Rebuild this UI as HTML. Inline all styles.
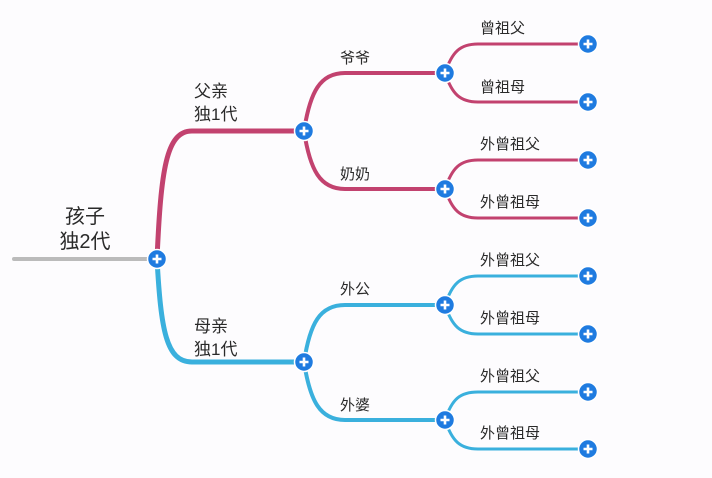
<!DOCTYPE html>
<html><head><meta charset="utf-8"><style>
html,body{margin:0;padding:0;background:#fdfcfe;}
svg{display:block}
text{font-family:"Liberation Sans","Noto Sans CJK SC",sans-serif;fill:#2a2a2a;}
</style></head><body>
<svg width="712" height="478" viewBox="0 0 712 478" xmlns="http://www.w3.org/2000/svg">
<defs>
<g id="btn"><circle r="9.5" fill="#1f7be0" stroke="#fff" stroke-width="1.5"/><path d="M-4.5 0H4.5M0 -4.5V4.5" stroke="#fff" stroke-width="2.6"/></g>
</defs>
<g fill="none" stroke-linecap="round">
<line x1="14" y1="259" x2="150" y2="259" stroke="#bbb" stroke-width="4"/>
<g stroke="#c2426f">
<path d="M157 259 C161 170 166 131 192 131 L304 131" stroke-width="5"/>
<path d="M304 131 C310 92 320 73 345 73 L445 73" stroke-width="4"/>
<path d="M304 131 C310 170 320 189 345 189 L445 189" stroke-width="4"/>
<path d="M445 73 C452 52 460 44 478 44 L588 44" stroke-width="3"/>
<path d="M445 73 C452 94 460 102 478 102 L588 102" stroke-width="3"/>
<path d="M445 189 C452 168 460 160 478 160 L588 160" stroke-width="3"/>
<path d="M445 189 C452 210 460 218 478 218 L588 218" stroke-width="3"/>
</g>
<g stroke="#3ab0dd">
<path d="M157 259 C161 330 166 362 192 362 L304 362" stroke-width="5"/>
<path d="M304 362 C310 323 320 305 345 305 L445 305" stroke-width="4"/>
<path d="M304 362 C310 401 320 420 345 420 L445 420" stroke-width="4"/>
<path d="M445 305 C452 284 460 276 478 276 L588 276" stroke-width="3"/>
<path d="M445 305 C452 326 460 334 478 334 L588 334" stroke-width="3"/>
<path d="M445 420 C452 399 460 392 478 392 L588 392" stroke-width="3"/>
<path d="M445 420 C452 441 460 449 478 449 L588 449" stroke-width="3"/>
</g>
</g>
<use href="#btn" x="157" y="259"/>
<use href="#btn" x="304" y="131"/><use href="#btn" x="304" y="362"/>
<use href="#btn" x="445" y="73"/><use href="#btn" x="445" y="189"/>
<use href="#btn" x="445" y="305"/><use href="#btn" x="445" y="420"/>
<use href="#btn" x="588" y="44"/><use href="#btn" x="588" y="102"/>
<use href="#btn" x="588" y="160"/><use href="#btn" x="588" y="218"/>
<use href="#btn" x="588" y="276"/><use href="#btn" x="588" y="334"/>
<use href="#btn" x="588" y="392"/><use href="#btn" x="588" y="449"/>
<text x="85" y="223" font-size="20" text-anchor="middle">孩子</text>
<text x="85" y="248" font-size="20" text-anchor="middle">独2代</text>
<text x="194" y="97" font-size="17">父亲</text>
<text x="194" y="120" font-size="17">独1代</text>
<text x="194" y="332" font-size="17">母亲</text>
<text x="194" y="355" font-size="17">独1代</text>
<text x="340" y="63" font-size="15">爷爷</text>
<text x="340" y="179" font-size="15">奶奶</text>
<text x="340" y="294" font-size="15">外公</text>
<text x="340" y="410" font-size="15">外婆</text>
<g font-size="15">
<text x="480" y="33">曾祖父</text>
<text x="480" y="92">曾祖母</text>
<text x="480" y="149">外曾祖父</text>
<text x="480" y="207">外曾祖母</text>
<text x="480" y="265">外曾祖父</text>
<text x="480" y="323">外曾祖母</text>
<text x="480" y="381">外曾祖父</text>
<text x="480" y="438">外曾祖母</text>
</g>
</svg>
</body></html>
